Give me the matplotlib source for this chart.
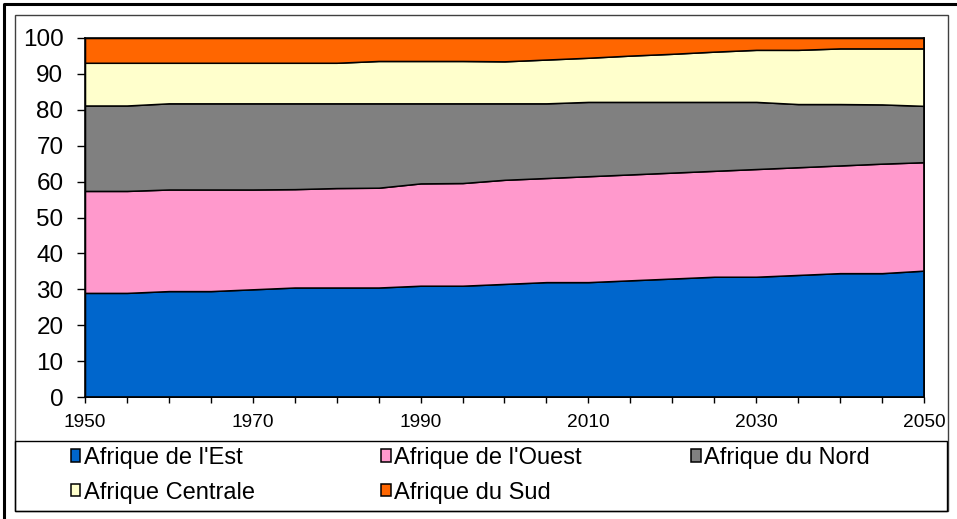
import matplotlib.pyplot as plt
from matplotlib.patches import Rectangle
from matplotlib.lines import Line2D

plt.rcParams['font.family'] = ['Liberation Sans', 'DejaVu Sans']

years = list(range(1950, 2051, 5))

# share of total population of Africa (%)
est = [29.0, 29.0, 29.5, 29.5, 30.0, 30.5, 30.5, 30.5, 31.0, 31.0, 31.5,
       32.0, 32.0, 32.5, 33.0, 33.5, 33.5, 34.0, 34.5, 34.5, 35.2]
ouest = [28.4, 28.4, 28.3, 28.3, 27.8, 27.4, 27.7, 27.8, 28.5, 28.6, 29.0,
         29.0, 29.5, 29.5, 29.5, 29.5, 30.0, 30.0, 30.0, 30.5, 30.2]
nord = [23.8, 23.8, 24.0, 24.0, 24.0, 23.9, 23.6, 23.5, 22.3, 22.2, 21.3,
        20.8, 20.7, 20.2, 19.7, 19.2, 18.7, 17.6, 17.1, 16.5, 15.7]
centrale = [11.9, 11.9, 11.3, 11.3, 11.3, 11.3, 11.3, 11.8, 11.8, 11.8, 11.7,
            12.2, 12.3, 12.9, 13.4, 14.0, 14.5, 15.1, 15.5, 15.6, 16.0]
sud = [6.9, 6.9, 6.9, 6.9, 6.9, 6.9, 6.9, 6.4, 6.4, 6.4, 6.5,
       6.0, 5.5, 4.9, 4.4, 3.8, 3.3, 3.3, 2.9, 2.9, 2.9]

labels = ["Afrique de l'Est", "Afrique de l'Ouest", "Afrique du Nord",
          "Afrique Centrale", "Afrique du Sud"]
colors = ["#0066CC", "#FF99CC", "#808080", "#FFFFCC", "#FF6600"]

W, H = 957, 519
fig = plt.figure(figsize=(W / 100, H / 100), dpi=100)
ax = fig.add_axes([85 / W, 1 - 397 / H, (924 - 85) / W, (397 - 38) / H])

polys = ax.stackplot(years, est, ouest, nord, centrale, sud,
                     colors=colors, labels=labels,
                     edgecolor="black", linewidth=1.1)

ax.set_xlim(1950, 2050)
ax.set_ylim(0, 100)
ax.set_yticks(range(0, 101, 10))
ax.set_xticks(range(1950, 2051, 20))
ax.set_xticks(range(1950, 2051, 5), minor=True)
ax.tick_params(axis="y", labelsize=17.5, length=6, width=1, pad=9.5)
ax.tick_params(axis="x", which="both", labelsize=13.8, length=4.3, width=1, pad=8)
ax.tick_params(axis="x", which="minor", labelbottom=False)
for sp in ax.spines.values():
    sp.set_linewidth(1.2)
    sp.set_color("black")

# chart frames
fig.add_artist(Rectangle((15 / W, 1 - 511 / H), (948 - 15) / W, (511 - 15) / H,
                         transform=fig.transFigure, fill=False,
                         edgecolor="#404040", linewidth=1))
fig.add_artist(Rectangle((15 / W, 1 - 511 / H), (947 - 15) / W, (511 - 441) / H,
                         transform=fig.transFigure, fill=False,
                         edgecolor="black", linewidth=1))
fig.add_artist(Line2D([3.5 / W, 3.5 / W, 1], [0, 1 - 3.5 / H, 1 - 3.5 / H],
                      transform=fig.transFigure, color="black", linewidth=2.2))

# legend, laid out in three columns like the original
cols = [([0, 3], 70.5), ([1, 4], 381), ([2], 691)]
for idx, xpix in cols:
    fig.legend([polys[i] for i in idx], [labels[i] for i in idx],
               loc="upper left", bbox_to_anchor=(xpix / W, 1 - 447 / H),
               frameon=False, fontsize=17, borderpad=0, borderaxespad=0,
               handlelength=0.42, handleheight=0.42, handletextpad=0.15,
               labelspacing=0.53)

fig.savefig("out.png", dpi=100)
